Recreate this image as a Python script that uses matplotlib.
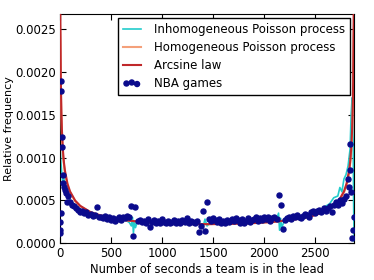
import numpy as np
import matplotlib.pyplot as plt

# values in units of 1e-4 (relative frequency)
arc_x = [1, 2, 3, 5, 10, 15, 20, 30, 40, 50, 75, 100, 150, 200, 300, 400, 500, 600, 800, 1000, 1200, 1440,
         1680, 1880, 2080, 2280, 2380, 2480, 2580, 2680, 2730, 2780, 2805, 2830, 2840, 2850, 2860, 2865,
         2870, 2875, 2877, 2878, 2879]
arc_y = [59.3, 42.0, 34.3, 26.5, 18.8, 15.4, 13.3, 10.9, 9.44, 8.46, 6.94, 6.04, 4.97, 4.35, 3.62, 3.20, 2.92, 2.72, 2.47, 2.32, 2.24, 2.21,
         2.24, 2.32, 2.47, 2.72, 2.92, 3.20, 3.62, 4.35, 4.97, 6.04, 6.94, 8.46, 9.44, 10.9, 13.3, 15.4,
         18.8, 26.5, 34.3, 42.0, 59.3]

homog_x = [0, 5, 10, 20, 30, 50, 75, 100, 150, 200, 300, 500, 800, 1440, 2080, 2380, 2580, 2680, 2730,
           2780, 2805, 2830, 2850, 2860, 2870, 2875, 2880]
homog_y = [26, 24, 17.5, 12.5, 10.3, 8.1, 6.7, 5.9, 4.9, 4.3, 3.6, 2.9, 2.45, 2.2, 2.45, 2.9, 3.6, 4.3, 4.9,
           5.9, 6.7, 8.1, 10.3, 12.5, 17.5, 24, 26]

inhom_x = [0, 5, 10, 20, 30, 40, 60, 80, 100, 130, 160, 200, 240, 280, 320, 360, 400, 440, 480, 520,
           560, 600, 640, 680, 700, 710, 720, 730, 740, 760, 800, 840, 880, 920, 960, 1000, 1040, 1080, 1120, 1160,
           1200, 1240, 1280, 1320, 1360, 1400, 1420, 1440, 1480, 1520, 1560, 1600, 1640, 1680, 1720, 1760, 1800, 1840,
           1880, 1920, 1960, 2000, 2040, 2080, 2120, 2140, 2150, 2160, 2170, 2200, 2240, 2280, 2320, 2360,
           2400, 2440, 2480, 2520, 2560, 2600, 2640, 2680, 2720, 2740, 2760, 2780, 2800, 2820, 2830, 2840,
           2850, 2860, 2870, 2875, 2880]
inhom_y = [13.0, 11.0, 9.5, 8.0, 7.0, 7.5, 6.0, 5.6, 5.0, 4.6, 4.2, 4.0, 3.6, 3.5, 3.3, 3.1, 3.0, 2.9, 2.8, 2.6,
           2.8, 2.5, 2.7, 2.4, 2.0, 3.0, 1.2, 2.6, 1.8, 2.6, 2.4, 2.6, 2.3, 2.5, 2.3, 2.5, 2.2, 2.4, 2.3, 2.5,
           2.2, 2.4, 2.3, 2.2, 2.5, 1.8, 2.8, 2.0, 2.5, 2.2, 2.4, 2.3, 2.2, 2.4, 2.3, 2.5, 2.2, 2.4,
           2.6, 2.3, 2.5, 2.4, 2.6, 2.5, 2.7, 3.5, 1.5, 2.9, 1.8, 2.7, 2.6, 2.9, 2.8, 3.1,
           3.0, 3.4, 3.3, 3.7, 3.9, 4.3, 4.6, 5.3, 5.5, 6.5, 6.0, 7.5, 8.0, 9.0, 10.0, 11.0,
           15.0, 17.0, 12.0, 4.0, 0.2]

nba_x = ([2, 4, 6, 8, 12, 16, 20, 25, 30, 35, 40, 50, 60, 70, 80]
         + list(range(100, 2800, 20))
         + [2800, 2815, 2825, 2835, 2841, 2850, 2860, 2870, 2875])
nba_y = [1.2, 1.5, 2.5, 3.5, 19.0, 17.8, 12.4, 11.2, 8.0, 7.0, 6.5, 6.2, 5.8, 4.8, 5.5,
         4.8, 4.4, 4.3, 4.1, 3.9, 3.6, 3.8, 3.5, 3.6, 3.3,
         3.4, 3.2, 3.3, 4.2, 3.0, 3.1, 2.9, 3.2, 2.8, 3.0,
         2.7, 2.9, 2.6, 2.8, 3.1, 2.7, 3.0, 2.9, 3.2, 3.0,
         4.3, 0.8, 4.2, 2.6, 2.7, 2.5, 2.6, 2.4, 2.8, 1.9,
         2.5, 2.7, 2.3, 2.6, 2.4, 2.8, 2.5, 2.3, 2.6, 2.4,
         2.5, 2.7, 2.3, 2.6, 2.4, 2.7, 2.5, 2.9, 2.4, 2.6,
         2.5, 2.3, 2.6, 1.3, 2.0, 3.7, 1.4, 4.8, 2.8, 2.6,
         2.9, 2.7, 2.5, 2.8, 2.4, 2.6, 2.3, 2.7, 2.5, 2.8,
         2.6, 2.9, 2.7, 2.4, 2.8, 2.3, 2.6, 2.9, 2.5, 2.7,
         2.8, 3.0, 2.6, 2.9, 2.7, 3.1, 2.8, 3.0, 2.6, 2.9,
         3.1, 2.8, 5.6, 4.5, 1.6, 2.7, 2.9, 3.0, 2.8, 3.2,
         3.0, 3.3, 3.1, 2.9, 3.2, 3.4, 3.3, 3.1, 3.6, 3.8,
         3.5, 3.7, 3.9, 3.6, 4.1, 3.8, 4.1, 4.3, 3.6, 4.5,
         4.8, 4.4, 5.0, 4.7, 5.2,
         5.5, 7.5, 6.5, 8.5, 11.6, 6.0, 0.6, 1.5, 3.0]

scale = 1e-4

plt.rcParams['font.family'] = 'DejaVu Sans'
plt.rcParams['xtick.direction'] = 'in'
plt.rcParams['ytick.direction'] = 'in'
plt.rcParams['xtick.top'] = True
plt.rcParams['ytick.right'] = True

fig = plt.figure(figsize=(3.74, 2.8), dpi=100)
ax = fig.add_axes([0.16, 0.132, 0.787, 0.818])

ax.plot(inhom_x, np.array(inhom_y) * scale, color='#22cccc', lw=1.2, label='Inhomogeneous Poisson process', zorder=2)
ax.plot(homog_x, np.array(homog_y) * scale, color='#f4a07a', lw=1.5, label='Homogeneous Poisson process', zorder=3)
ax.plot(arc_x, np.array(arc_y) * scale, color='#c0282a', lw=1.5, label='Arcsine law', zorder=4)
ax.scatter(nba_x, np.array(nba_y) * scale, s=13, color='#0a0a8c', label='NBA games', zorder=5)

ax.set_xlim(0, 2880)
ax.set_ylim(0, 0.00268)
ax.set_xticks([0, 500, 1000, 1500, 2000, 2500])
ax.set_yticks([0, 0.0005, 0.001, 0.0015, 0.002, 0.0025])
ax.yaxis.set_major_formatter(plt.FormatStrFormatter('%.4f'))
ax.tick_params(labelsize=8.5, length=4, pad=3)
ax.set_xlabel('Number of seconds a team is in the lead', fontsize=8.3, labelpad=2)
ax.set_ylabel('Relative frequency', fontsize=8)
ax.yaxis.set_label_coords(-0.155, 0.5)

leg = ax.legend(loc='upper right', fontsize=8.5, scatterpoints=3, fancybox=False, framealpha=1,
                borderaxespad=0.35, handlelength=1.5, handletextpad=1.1, labelspacing=0.4,
                borderpad=0.45)
leg.get_frame().set_edgecolor('black')

fig.savefig('out.png', dpi=100)
